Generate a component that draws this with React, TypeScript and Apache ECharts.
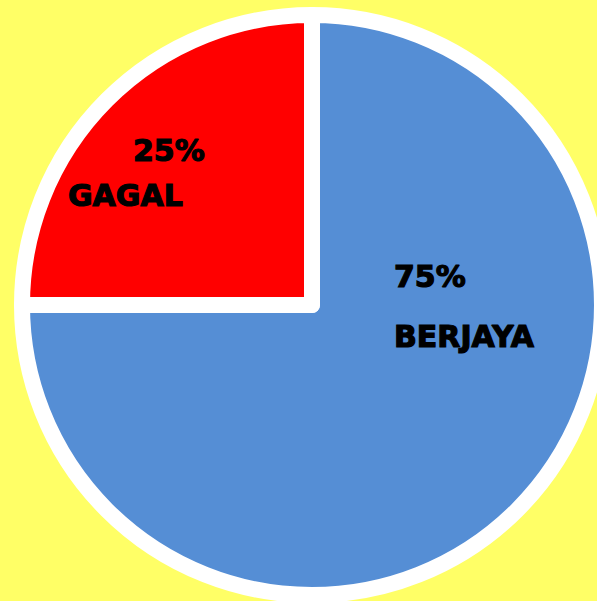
import React, { useEffect, useRef } from "react";
import * as echarts from "echarts";

const categories = ["BERJAYA", "GAGAL"];
const values = [75, 25];
const sliceColors = ["#558ED5", "#FF0000"];

// label block top-left positions (px) and line spacing per slice
const labelBoxes = [
  { x: 394, y: 246, lh: 60, indent: 0 },
  { x: 68, y: 128, lh: 45, indent: 65 },
];

export default function App() {
  const ref = useRef<HTMLDivElement>(null);
  useEffect(() => {
    if (!ref.current) return;
    const chart = echarts.init(ref.current, null, { renderer: "svg" });
    const font = {
      fontFamily: "DejaVu Sans",
      fontWeight: "bold" as const,
      fontSize: 30,
      color: "#000",
      textBorderColor: "#000",
      textBorderWidth: 1.2,
    };
    chart.setOption({
      animation: false,
      backgroundColor: "#FFFF66",
      series: [
        {
          type: "pie",
          center: [312, 305],
          radius: 290,
          startAngle: 90,
          clockwise: true,
          silent: true,
          emphasis: { disabled: true },
          labelLine: { show: false },
          itemStyle: { borderColor: "#FFFFFF", borderWidth: 16, borderJoin: "round" },
          label: {
            show: true,
            position: "inside",
            align: "left",
            verticalAlign: "top",
            formatter: (p: any) => `{p|${Math.round(p.percent)}%}\n{n|${p.name}}`,
          },
          labelLayout: (params: any) => {
            const b = labelBoxes[params.dataIndex];
            return { x: b.x, y: b.y, align: "left", verticalAlign: "top" };
          },
          data: categories.map((name, i) => ({
            name,
            value: values[i],
            itemStyle: { color: sliceColors[i] },
            label: {
              rich: {
                p: { ...font, align: "left", lineHeight: labelBoxes[i].lh, padding: [0, 0, 0, labelBoxes[i].indent] },
                n: { ...font, align: "left", lineHeight: labelBoxes[i].lh },
              },
            },
          })),
        },
      ],
    });
    return () => chart.dispose();
  }, []);
  return (
    <div
      ref={ref}
      style={{ position: "absolute", left: 0, top: 0, width: 597, height: 601 }}
    />
  );
}
